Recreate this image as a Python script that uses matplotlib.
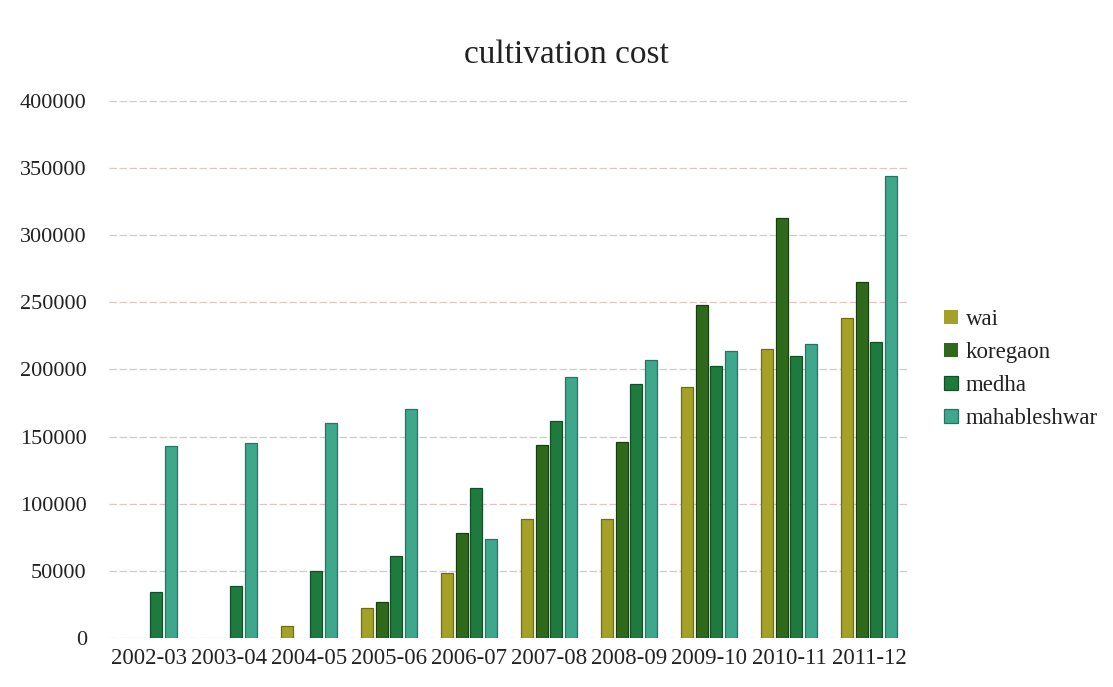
import matplotlib
matplotlib.use("Agg")
import matplotlib.pyplot as plt
import numpy as np

# Cultivation cost per region, by crop year
years = ["2002-03", "2003-04", "2004-05", "2005-06", "2006-07",
         "2007-08", "2008-09", "2009-10", "2010-11", "2011-12"]
wai = [0, 0, 9000, 22600, 48700, 88400, 88400, 187300, 215100, 238200]
koregaon = [0, 0, 0, 27000, 78500, 143800, 146300, 247900, 312700, 265500]
medha = [34500, 38800, 50100, 61100, 111500, 161700, 189300, 202700, 210400, 220600]
mahableshwar = [143300, 145000, 160000, 170600, 74000, 194700, 206900, 213900, 219100, 344300]

series_names = ["wai", "koregaon", "medha", "mahableshwar"]
series_values = [wai, koregaon, medha, mahableshwar]
colors = ["#a3a226", "#2f6a1c", "#1f7a3e", "#3fa88c"]
edges = ["#6e6d12", "#1a3f0e", "#11502a", "#257563"]

plt.rcParams["font.family"] = ["Liberation Serif", "DejaVu Serif"]

fig = plt.figure(figsize=(11.13, 6.87), dpi=100)
ax = fig.add_axes([109 / 1113, 1 - 638 / 687, 800 / 1113, (638 - 101) / 687])

x = np.arange(len(years))
width = 0.155
step = 0.182
offsets = (np.arange(4) - 1.5) * step
for vals, name, c, ec, off in zip(series_values, series_names, colors, edges, offsets):
    bars = ax.bar(x + off, vals, width=width, color=c, edgecolor=ec, linewidth=0.9,
                  label=name, zorder=3)
    # empty years get no outline
    for b, v in zip(bars, vals):
        if v == 0:
            b.set_edgecolor("none")

ax.set_xlim(-0.5, len(years) - 0.5)
ax.set_ylim(0, 400000)
ax.set_yticks(np.arange(0, 400001, 50000))
ax.set_yticklabels([str(v) for v in range(0, 400001, 50000)])
ax.set_xticks(x)
ax.set_xticklabels(years)
ax.tick_params(axis="y", length=0, labelsize=16, colors="#222222", pad=16)
ax.tick_params(axis="x", length=0, labelsize=16.5, colors="#222222", pad=7)
ax.yaxis.grid(True, color="#dcc6c6", linewidth=0.9, linestyle=(0, (6, 2)), zorder=0)
for s in ax.spines.values():
    s.set_visible(False)

fig.text(566 / 1113, 1 - 55 / 687, "cultivation cost", ha="center", va="center",
         fontsize=24, color="#222222")

leg = ax.legend(loc="center left", bbox_to_anchor=(944 / 1113, 1 - 369 / 687),
                bbox_transform=fig.transFigure, frameon=False, fontsize=16.5,
                handlelength=0.6, handleheight=0.6, handletextpad=0.35,
                labelspacing=0.52, borderpad=0, borderaxespad=0)
for t in leg.get_texts():
    t.set_color("#222222")

fig.savefig("out.png", dpi=100)
